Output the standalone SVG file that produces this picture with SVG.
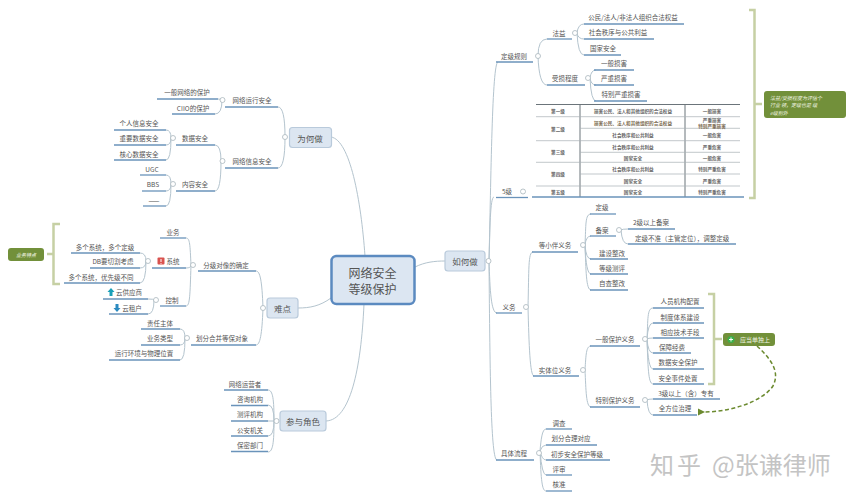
<svg xmlns="http://www.w3.org/2000/svg" width="854" height="500" viewBox="0 0 854 500">
<style>
text{font-family:"Noto Sans CJK SC","Noto Sans",sans-serif;fill:#555;text-anchor:middle}
.l{font-size:6.5px;dominant-baseline:central}
.c{fill:none;stroke:#b4c4ce;stroke-width:1}
.u{stroke:#6a93ba;stroke-width:1.3;fill:none}
.o{fill:#fff;stroke:#aab6bd;stroke-width:.8}
.b{fill:#dce6f1;stroke:#b9cadb;stroke-width:1.2}
.t{font-size:8.5px;dominant-baseline:central}
.br{fill:none;stroke:#c6d0a4;stroke-width:2.5}
.g{fill:#72903a}
.w{fill:#f0f4e2;font-style:italic;font-size:5px;dominant-baseline:central}
.tb{font-size:4.6px;font-weight:700;font-family:"Noto Sans CJK SC",serif;dominant-baseline:central;fill:#666}
.r{stroke:#a8b0b5;stroke-width:.7}
.rd{stroke:#6b747a;stroke-width:1}
</style>
<defs>
<marker id="ah" markerWidth="8" markerHeight="8" refX="1" refY="3.5" orient="auto-start-reverse" markerUnits="userSpaceOnUse"><path d="M7 0L0 3.5L7 7Z" fill="#6b8a2f"/></marker>
</defs>
<rect width="854" height="500" fill="#fff"/>
<g id="connectors">
<path class="c" d="M365 256C361 200 350 140 331 137"/>
<path class="c" d="M331 298C320 306 310 308 298 308"/>
<path class="c" d="M364 304C361 370 350 420 326 421"/>
<path class="c" d="M415 267C425 262 435 261 445 261"/>
<path class="c" d="M285 137Q285 107 278 107M285 137Q285 168 278 168"/>
<path class="c" d="M222 100Q221 99 218 99M222 100Q222 114 215 114"/>
<path class="c" d="M221 161Q221 145 215 145M221 161Q221 191 215 191"/>
<path class="c" d="M171 138Q171 130 166 130M171 138Q171 145 166 145M171 138Q171 160 166 160"/>
<path class="c" d="M171 184Q171 175 166 175M171 184Q171 191 166 191M171 184Q171 206 166 206"/>
<path class="c" d="M263 308C262 280 260 271 256 271M263 308C262 335 260 345 256 345"/>
<path class="c" d="M191 265C190 245 190 238 186 238M191 265Q191 268 186 268M191 265C190 295 190 306 186 306"/>
<path class="c" d="M146 261Q146 253 140 253M146 261Q146 268 140 268M146 261Q146 283 140 283"/>
<path class="c" d="M154 300Q154 299 148 299M154 300Q154 314 148 314"/>
<path class="c" d="M185 338Q185 329 180 329M185 338Q185 345 180 345M185 338Q185 360 180 360"/>
<path class="c" d="M274 421C274 400 273 390 268 390M274 421Q274 405 268 405M274 421L268 421M274 421Q274 436 268 436M274 421C274 442 273 452 268 452"/>
<path class="c" d="M489 261C491 180 492 62 498 62M489 261C490 230 490 197 494 197M489 261C490 290 491 313 497 313M489 261C490 380 491 460 497 460"/>
<path class="c" d="M538 56Q538 39 547 39M538 56Q539 85 547 85"/>
<path class="c" d="M577 33Q578 24 584 24M577 33Q578 39 584 39M577 33Q578 55 584 55"/>
<path class="c" d="M590 78Q591 70 596 70M590 78Q591 85 596 85M590 78Q591 101 596 101"/>
<path class="c" d="M528 307C529 270 528 252 533 252M528 307C529 345 530 376 534 376"/>
<path class="c" d="M585 245C586 225 585 214 591 214M585 245Q586 236 591 236M585 245Q586 259 591 259M585 245Q586 274 591 274M585 245C586 270 586 290 591 290"/>
<path class="c" d="M621 230Q622 229 628 229M621 230Q622 244 628 244"/>
<path class="c" d="M585 370C586 355 586 346 591 346M585 370C586 390 586 407 591 407"/>
<path class="c" d="M647 339C648 320 647 308 653 308M647 339Q648 323 653 323M647 339Q648 338 653 338M647 339Q648 353 653 353M647 339Q648 369 653 369M647 339C648 365 648 384 653 384"/>
<path class="c" d="M647 400Q648 399 653 399M647 400Q648 415 653 415"/>
<path class="c" d="M540 451C541 440 542 429 546 429M540 451Q542 445 546 445M540 451Q542 460 546 460M540 451Q542 475 546 475M540 451C541 480 542 491 546 491"/>
<path d="M757 346C772 360 780 372 773 386C762 402 730 412 704 412" fill="none" stroke="#6b8a2f" stroke-width="1.5" stroke-dasharray="4 2.5" marker-end="url(#ah)"/>
</g>
<g id="root"><rect x="331.500" y="256" width="83" height="48" rx="5" fill="#dce6f2" stroke="#5b8ac0" stroke-width="2.500"/><text x="372.500" y="272" font-size="12" dominant-baseline="central">网络安全</text><text x="372.500" y="288" font-size="12" dominant-baseline="central">等级保护</text></g>
<g id="why"><rect class="b" x="289.500" y="127.500" width="42" height="20" rx="3"/><text class="t" x="310" y="138">为何做</text><circle class="o" cx="285" cy="137" r="2.500"/></g>
<g id="hard"><rect class="b" x="267" y="298" width="31" height="20" rx="3"/><text class="t" x="282.500" y="308">难点</text><circle class="o" cx="263" cy="308" r="2.500"/></g>
<g id="role"><rect class="b" x="280" y="411" width="46" height="20" rx="3"/><text class="t" x="303" y="421">参与角色</text><circle class="o" cx="276.500" cy="421" r="2.500"/></g>
<g id="how"><rect class="b" x="445" y="251" width="40" height="20" rx="3"/><text class="t" x="465" y="261">如何做</text><circle class="o" cx="488.500" cy="261" r="2.500"/></g>

<g id="n-run"><text class="l" x="252" y="100">网络运行安全</text><path class="u" d="M225 107H278"/><circle class="o" cx="222.500" cy="100" r="2.500"/></g>
<g id="n-info"><text class="l" x="252" y="161">网络信息安全</text><path class="u" d="M225 168H278"/><circle class="o" cx="222.500" cy="161" r="2.500"/></g>
<g id="n-a1"><text class="l" x="187" y="92">一般网络的保护</text><path class="u" d="M157 99H218"/></g>
<g id="n-a2"><text class="l" x="193" y="108">CIIO的保护</text><path class="u" d="M172 114H215"/></g>
<g id="n-data"><text class="l" x="195" y="138">数据安全</text><path class="u" d="M176 145H215"/><circle class="o" cx="173" cy="138" r="2.500"/></g>
<g id="n-cont"><text class="l" x="195" y="184">内容安全</text><path class="u" d="M176 191H215"/><circle class="o" cx="173" cy="184" r="2.500"/></g>
<g id="n-d1"><text class="l" x="139" y="123">个人信息安全</text><path class="u" d="M114 130H166"/></g>
<g id="n-d2"><text class="l" x="139" y="138">重要数据安全</text><path class="u" d="M114 145H166"/></g>
<g id="n-d3"><text class="l" x="139" y="154">核心数据安全</text><path class="u" d="M114 160H166"/></g>
<g id="n-c1"><text class="l" x="152" y="169">UGC</text><path class="u" d="M140 175H166"/></g>
<g id="n-c2"><text class="l" x="153" y="184">BBS</text><path class="u" d="M142 191H166"/></g>
<g id="n-c3"><text class="l" x="154" y="200">——</text><path class="u" d="M143 206H166"/></g>

<g id="n-lv"><text class="l" x="226" y="265">分级对像的确定</text><path class="u" d="M198 271H256"/><circle class="o" cx="193" cy="265" r="2.500"/></g>
<g id="n-merge"><text class="l" x="222" y="338">划分合并等保对象</text><path class="u" d="M191 345H256"/><circle class="o" cx="187" cy="338" r="2.500"/></g>
<g id="n-biz"><text class="l" x="173" y="232">业务</text><path class="u" d="M160 238H186"/></g>
<g id="n-sys"><rect x="157.500" y="257.500" width="7" height="7" rx="1" fill="#d9534f"/><path d="M161 259V262M161 263V263.800" stroke="#fff" stroke-width="1"/><text class="l" x="173" y="261">系统</text><path class="u" d="M152 268H186"/><circle class="o" cx="148" cy="261" r="2.500"/></g>
<g id="n-ctl"><text class="l" x="172" y="300">控制</text><path class="u" d="M160 306H186"/><circle class="o" cx="156" cy="300" r="2.500"/></g>
<g id="n-s1"><text class="l" x="105" y="247">多个系统，多个定级</text><path class="u" d="M71 253H140"/></g>
<g id="n-s2"><text class="l" x="113" y="261">DB要切割考虑</text><path class="u" d="M90 268H140"/></g>
<g id="n-s3"><text class="l" x="101" y="277">多个系统，优先级不同</text><path class="u" d="M64 283H140"/></g>
<g id="n-k1"><path d="M111 288L114.500 292H112.500V296H109.500V292H107.500Z" fill="#1aa0b8"/><text class="l" x="129" y="292">云供应商</text><path class="u" d="M103 299H148"/></g>
<g id="n-k2"><path d="M117 312L120.500 308H118.500V304H115.500V308H113.500Z" fill="#2a8ac0"/><text class="l" x="132" y="308">云租户</text><path class="u" d="M109 314H148"/></g>
<g id="n-m1"><text class="l" x="160" y="323">责任主体</text><path class="u" d="M141 329H180"/></g>
<g id="n-m2"><text class="l" x="160" y="338">业务类型</text><path class="u" d="M141 345H180"/></g>
<g id="n-m3"><text class="l" x="144" y="353">运行环境与物理位置</text><path class="u" d="M109 360H180"/></g>

<g id="n-r1"><text class="l" x="245" y="384">网络运营者</text><path class="u" d="M224 390H268"/></g>
<g id="n-r2"><text class="l" x="250" y="399">咨询机构</text><path class="u" d="M231 405.500H268"/></g>
<g id="n-r3"><text class="l" x="250" y="414">测评机构</text><path class="u" d="M231 421H268"/></g>
<g id="n-r4"><text class="l" x="250" y="430">公安机关</text><path class="u" d="M231 436H268"/></g>
<g id="n-r5"><text class="l" x="250" y="445">保密部门</text><path class="u" d="M231 451.500H268"/></g>

<g id="n-grade"><text class="l" x="514" y="56">定级规则</text><path class="u" d="M496 62H533"/><circle class="o" cx="538" cy="56" r="2.500"/></g>
<g id="n-obj"><text class="l" x="559" y="33">法益</text><path class="u" d="M547 39H572"/><circle class="o" cx="575" cy="33" r="2.500"/></g>
<g id="n-deg"><text class="l" x="565" y="78">受损程度</text><path class="u" d="M547 85H585"/><circle class="o" cx="588" cy="78" r="2.500"/></g>
<g id="n-o1"><text class="l" x="633" y="17">公民/法人/非法人组织合法权益</text><path class="u" d="M584 24H684"/></g>
<g id="n-o2"><text class="l" x="618" y="32">社会秩序与公共利益</text><path class="u" d="M584 39H654"/></g>
<g id="n-o3"><text class="l" x="603" y="48">国家安全</text><path class="u" d="M584 55H621"/></g>
<g id="n-g1"><text class="l" x="614" y="63">一般损害</text><path class="u" d="M594 70H634"/></g>
<g id="n-g2"><text class="l" x="614" y="78">严重损害</text><path class="u" d="M594 85H634"/></g>
<g id="n-g3"><text class="l" x="621" y="94">特别严重损害</text><path class="u" d="M594 101H647"/></g>

<g id="n-table">
<path class="rd" d="M536 104.500H740M580 104.500V197M685 104.500V197"/>
<path class="r" d="M536 116.700H740M580 128.300H740M536 140.700H740M580 152.300H740M536 162.300H740M580 174H740M536 186H740"/>
<text class="tb" x="558" y="111">第一级</text><text class="tb" x="633" y="111">损害公民、法人和其他组织的合法权益</text><text class="tb" x="712" y="111">一般损害</text>
<text class="tb" x="558" y="129">第二级</text><text class="tb" x="633" y="123" style="fill:#7a6a50">损害公民、法人和其他组织的合法权益</text><text class="tb" x="712" y="120">严重损害</text><text class="tb" x="712" y="126" style="fill:#7a6a50">特别严重损害</text>
<text class="tb" x="633" y="135">社会秩序和公共利益</text><text class="tb" x="712" y="135">一般危害</text>
<text class="tb" x="558" y="152">第三级</text><text class="tb" x="633" y="147">社会秩序和公共利益</text><text class="tb" x="712" y="147">严重危害</text>
<text class="tb" x="633" y="158">国家安全</text><text class="tb" x="712" y="158">一般危害</text>
<text class="tb" x="558" y="174">第四级</text><text class="tb" x="633" y="169">社会秩序和公共利益</text><text class="tb" x="712" y="169">特别严重危害</text>
<text class="tb" x="633" y="181">国家安全</text><text class="tb" x="712" y="181">严重危害</text>
<text class="tb" x="558" y="192">第五级</text><text class="tb" x="633" y="192">国家安全</text><text class="tb" x="712" y="192">特别严重危害</text>
<path class="u" d="M532 197H744"/>
</g>
<g id="n-5"><text class="l" x="507" y="191">5级</text><path class="u" d="M496 197.500H528"/><circle class="o" cx="523" cy="191.500" r="2.500"/></g>

<g id="n-duty"><text class="l" x="509" y="307">义务</text><path class="u" d="M496 313H522"/><circle class="o" cx="526" cy="307" r="2.500"/></g>
<g id="n-op"><text class="l" x="555" y="245">等小伴义务</text><path class="u" d="M532 252H578"/><circle class="o" cx="583" cy="245" r="2.500"/></g>
<g id="n-ent"><text class="l" x="555" y="370">实体位义务</text><path class="u" d="M533 376H579"/><circle class="o" cx="583" cy="370" r="2.500"/></g>
<g id="n-p1"><text class="l" x="602" y="207">定级</text><path class="u" d="M590 214H616"/></g>
<g id="n-p2"><text class="l" x="602" y="230">备案</text><path class="u" d="M590 236H616"/><circle class="o" cx="619" cy="230" r="2.500"/></g>
<g id="n-p3"><text class="l" x="612" y="253">建设整改</text><path class="u" d="M590 259H628"/></g>
<g id="n-p4"><text class="l" x="612" y="268">等级测评</text><path class="u" d="M590 274H628"/></g>
<g id="n-p5"><text class="l" x="612" y="283">自查整改</text><path class="u" d="M590 290H628"/></g>
<g id="n-q1"><text class="l" x="651" y="222">2级以上备案</text><path class="u" d="M628 229H675"/></g>
<g id="n-q2"><text class="l" x="682" y="238">定级不准（主管定位），调整定级</text><path class="u" d="M628 244H736"/></g>
<g id="n-gen"><text class="l" x="615" y="339">一般保护义务</text><path class="u" d="M590 346H640"/><circle class="o" cx="645" cy="339" r="2.500"/></g>
<g id="n-spc"><text class="l" x="615" y="400">特别保护义务</text><path class="u" d="M590 407H640"/><circle class="o" cx="645" cy="400" r="2.500"/></g>
<g id="n-e1"><text class="l" x="680" y="301">人员机构配置</text><path class="u" d="M653 308H704"/></g>
<g id="n-e2"><text class="l" x="680" y="317">制度体系建设</text><path class="u" d="M653 323H704"/></g>
<g id="n-e3"><text class="l" x="680" y="332">相应技术手段</text><path class="u" d="M653 338H704"/></g>
<g id="n-e4"><text class="l" x="672" y="347">保障经费</text><path class="u" d="M653 353H691"/></g>
<g id="n-e5"><text class="l" x="678" y="362">数据安全保护</text><path class="u" d="M653 369H704"/></g>
<g id="n-e6"><text class="l" x="678" y="378">安全事件处置</text><path class="u" d="M653 384H704"/></g>
<g id="n-f1"><text class="l" x="686" y="393">3级以上（含）专有</text><path class="u" d="M653 399H720"/></g>
<g id="n-f2"><text class="l" x="675" y="408">全方位治理</text><path class="u" d="M653 415H697"/></g>

<g id="n-flow"><text class="l" x="514" y="453">具体流程</text><path class="u" d="M496 460H534"/><circle class="o" cx="539" cy="453" r="2.500"/></g>
<g id="n-h1"><text class="l" x="559" y="423">调查</text><path class="u" d="M546 429H572"/></g>
<g id="n-h2"><text class="l" x="571" y="438">划分合理对应</text><path class="u" d="M546 445H597"/></g>
<g id="n-h3"><text class="l" x="577" y="454">初步安全保护等级</text><path class="u" d="M546 460H610"/></g>
<g id="n-h4"><text class="l" x="559" y="469">评审</text><path class="u" d="M546 475H572"/></g>
<g id="n-h5"><text class="l" x="559" y="484">核准</text><path class="u" d="M546 491H572"/></g>

<g id="note-top"><path class="br" d="M749 10H754.500V198H749M754.500 104H762"/><rect class="g" x="764" y="91" width="82" height="27" rx="3"/><text class="w" x="770" y="97" style="text-anchor:start">法益/受损程度为评估个</text><text class="w" x="770" y="104.500" style="text-anchor:start">行业   领，定级也是   级</text><text class="w" x="770" y="112" style="text-anchor:start">e级别外</text></g>
<g id="note-left"><path class="br" d="M60 224H53.500V284H60M53.500 254H47"/><rect class="g" x="8" y="248" width="36" height="13" rx="3"/><text class="w" x="26" y="254.500">业务特点</text></g>
<g id="note-mid"><path class="br" d="M708 294H714V384H708M714 339H722"/><rect class="g" x="723" y="333" width="52" height="13" rx="3"/><circle cx="731" cy="339.500" r="3.500" fill="#3cb04a"/><path d="M729 339.500H733M731 337.500V341.500" stroke="#fff" stroke-width="1"/><text class="w" x="755" y="339.500" style="font-style:normal;font-size:6px">应当单独上</text></g>

<g id="watermark"><text x="650" y="474" font-size="24" letter-spacing="3" style="text-anchor:start;fill:#c4c4c4">知乎</text><text x="712" y="474" font-size="24" style="text-anchor:start;fill:#c4c4c4">@张谦律师</text></g>
</svg>
